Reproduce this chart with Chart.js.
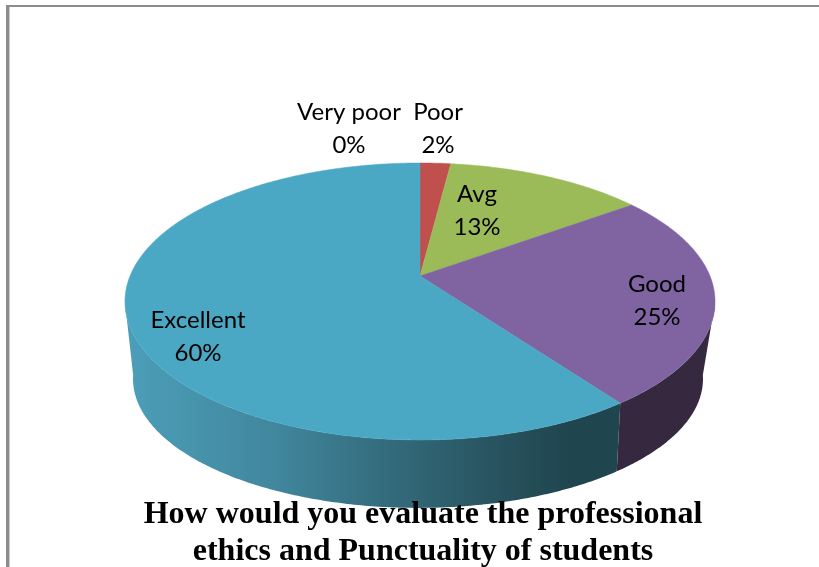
<!DOCTYPE html>
<html>
<head>
<meta charset="utf-8">
<style>
  html, body { margin: 0; padding: 0; background: #fff; }
  #wrap { width: 819px; height: 567px; position: relative; overflow: hidden; }
</style>
<script src="https://cdn.jsdelivr.net/npm/chart.js@4"></script>
</head>
<body>
<div id="wrap"><canvas id="chart" width="819" height="567"></canvas></div>
<script>
const categories = ['Very poor', 'Poor', 'Avg', 'Good', 'Excellent'];
const percents = [0, 2, 13, 25, 60];
const titleLines = ['How would you evaluate the professional', 'ethics and Punctuality of students'];

const topColors = ['#4F81BD', '#C0504D', '#9BBB59', '#8064A2', '#4AA8C4'];
const labelCentres = [[349, 112], [438, 112], [477, 194], [657, 284], [198, 320]];

/* ── Tilted disc: the pie's own angles go through a perspective projection ── */

const topRim = { x: 420, y: 276, rx: 290, ry: 133.8, tilt: 0.184 };
const lowRim = { x: 418, y: 350.6, rx: 278, ry: 122.7, tilt: 0.22 };

function project(rim, angle) {
  const theta = angle + Math.PI / 2;
  const u = Math.sin(theta), v = Math.cos(theta);
  const w = 1 + rim.tilt * v;
  return [rim.x + rim.rx * u / w, rim.y - rim.ry * v / w];
}

function trace(ctx, rim, from, to) {
  const steps = Math.max(2, Math.ceil(Math.abs(to - from) / 0.01));
  for (let i = 0; i <= steps; i++) {
    const [x, y] = project(rim, from + (to - from) * i / steps);
    ctx.lineTo(x, y);
  }
}

function wallGradient(ctx, stops) {
  const g = ctx.createLinearGradient(125, 0, 620, 0);
  stops.forEach(s => g.addColorStop(s[0], s[1]));
  return g;
}

const pie3d = {
  id: 'pie3d',
  beforeDraw(chart) {
    const ctx = chart.ctx;
    const arcs = chart.getDatasetMeta(0).data;

    ctx.save();
    // frame
    ctx.fillStyle = '#8c8c8c';
    ctx.fillRect(6, 5, 813, 2);
    ctx.fillRect(6, 5, 3, 562);
    ctx.fillStyle = '#cccccc';
    ctx.fillRect(9, 7, 1, 560);

    // side walls, only the part of each slice facing the viewer
    const frontFrom = -Math.PI / 2 + 101 * Math.PI / 180;
    const frontTo = -Math.PI / 2 + 259 * Math.PI / 180;
    const wallFills = {
      3: '#35283F',
      4: wallGradient(ctx, [[0, '#4C9EB9'], [0.3, '#41879E'], [0.5, '#356F80'], [0.75, '#28535F'], [0.9, '#1F454F'], [1, '#1F454F']])
    };
    arcs.forEach((arc, i) => {
      const from = Math.max(arc.startAngle, frontFrom);
      const to = Math.min(arc.endAngle, frontTo);
      if (to <= from || !wallFills[i]) return;
      ctx.beginPath();
      trace(ctx, topRim, from, to);
      trace(ctx, lowRim, to, from);
      ctx.closePath();
      ctx.fillStyle = wallFills[i];
      ctx.fill();
    });

    // top face
    arcs.forEach((arc, i) => {
      if (arc.endAngle - arc.startAngle <= 0) return;
      ctx.beginPath();
      ctx.moveTo(topRim.x, topRim.y);
      trace(ctx, topRim, arc.startAngle, arc.endAngle);
      ctx.closePath();
      ctx.fillStyle = topColors[i];
      ctx.strokeStyle = topColors[i];
      ctx.lineWidth = 0.5;
      ctx.fill();
      ctx.stroke();
    });

    // labels
    ctx.fillStyle = '#000';
    ctx.font = '24px Lato, sans-serif';
    ctx.textAlign = 'center';
    ctx.textBaseline = 'middle';
    categories.forEach((name, i) => {
      const [x, y] = labelCentres[i];
      ctx.fillText(name, x, y);
      ctx.fillText(percents[i] + '%', x, y + 33);
    });
    ctx.restore();
  },
  // the slices are painted above, in perspective
  beforeDatasetDraw() { return false; }
};

new Chart(document.getElementById('chart'), {
  type: 'pie',
  data: {
    labels: categories,
    datasets: [{ data: percents, backgroundColor: topColors, borderWidth: 0 }]
  },
  options: {
    responsive: false,
    animation: false,
    layout: { padding: { left: 27, bottom: -3 } },
    plugins: {
      legend: { display: false },
      tooltip: { enabled: false },
      title: {
        display: true,
        position: 'bottom',
        text: titleLines,
        color: '#000',
        padding: 0,
        font: { family: '"Liberation Serif", serif', size: 32, weight: 'bold', lineHeight: 1.16 }
      }
    }
  },
  plugins: [pie3d]
});
</script>
</body>
</html>
